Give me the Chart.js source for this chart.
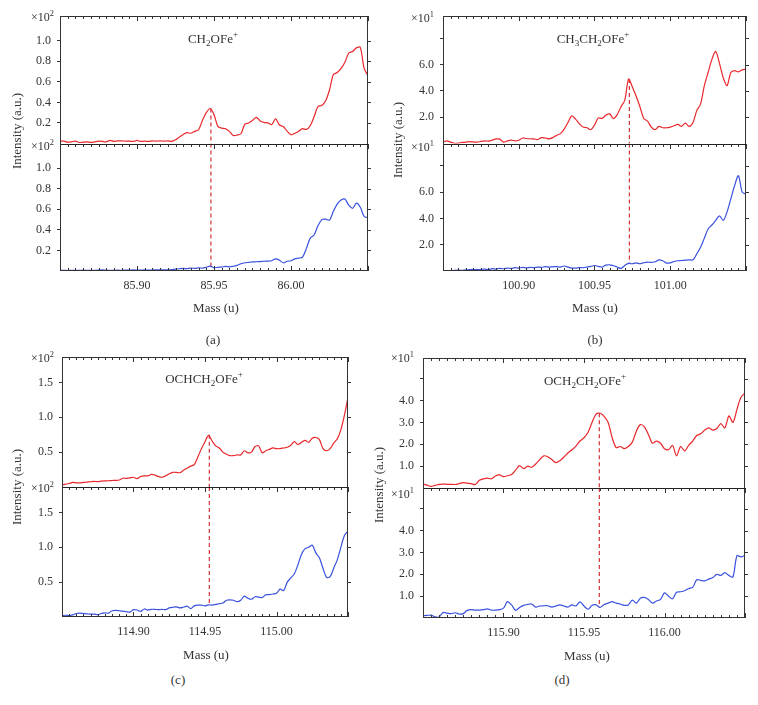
<!DOCTYPE html>
<html><head><meta charset="utf-8">
<script src="https://cdn.jsdelivr.net/npm/chart.js@4.4.1/dist/chart.umd.min.js"></script>
<style>
html,body{margin:0;padding:0;background:#fff;}
#wrap{position:relative;width:758px;height:705px;background:#fff;font-family:'Liberation Serif','Times New Roman',serif;color:#333;overflow:hidden;}
canvas{position:absolute;}
.t{position:absolute;white-space:nowrap;transform:translate(-50%,-50%);line-height:1;font-size:13px;color:#333;}
.r{position:absolute;white-space:nowrap;transform:translate(-100%,-50%);line-height:1;font-size:12px;color:#333;}
.v{position:absolute;white-space:nowrap;transform:translate(-50%,-50%) rotate(-90deg);font-size:13px;line-height:1;color:#333;}
sub,sup{font-size:70%;line-height:0;}
</style></head>
<body><div id="wrap">
<canvas id="ca" width="379" height="300" style="left:0;top:0"></canvas>
<canvas id="cb" width="379" height="300" style="left:379px;top:0"></canvas>
<canvas id="cc" width="379" height="310" style="left:0;top:340px"></canvas>
<canvas id="cd" width="379" height="310" style="left:379px;top:340px"></canvas>

<div class="t" style="left:213px;top:38px">CH<sub>2</sub>OFe<sup>+</sup></div>
<div class="t" style="left:593px;top:38px">CH<sub>3</sub>CH<sub>2</sub>OFe<sup>+</sup></div>
<div class="t" style="left:204px;top:378px">OCHCH<sub>2</sub>OFe<sup>+</sup></div>
<div class="t" style="left:585px;top:380px">OCH<sub>2</sub>CH<sub>2</sub>OFe<sup>+</sup></div>

<div class="r" style="left:54px;top:17px">×10<sup>2</sup></div>
<div class="r" style="left:54px;top:146px">×10<sup>2</sup></div>
<div class="r" style="left:434px;top:18px">×10<sup>1</sup></div>
<div class="r" style="left:434px;top:147px">×10<sup>1</sup></div>
<div class="r" style="left:54px;top:358px">×10<sup>2</sup></div>
<div class="r" style="left:54px;top:488px">×10<sup>2</sup></div>
<div class="r" style="left:414px;top:358px">×10<sup>1</sup></div>
<div class="r" style="left:414px;top:494px">×10<sup>1</sup></div>

<div class="v" style="left:16px;top:131px">Intensity (a.u.)</div>
<div class="v" style="left:397px;top:140px">Intensity (a.u.)</div>
<div class="v" style="left:16px;top:487px">Intensity (a.u.)</div>
<div class="v" style="left:378px;top:485px">Intensity (a.u.)</div>

<div class="t" style="left:216px;top:307px">Mass (u)</div>
<div class="t" style="left:595px;top:307px">Mass (u)</div>
<div class="t" style="left:206px;top:654px">Mass (u)</div>
<div class="t" style="left:587px;top:655px">Mass (u)</div>

<div class="t" style="left:213px;top:339px">(a)</div>
<div class="t" style="left:595px;top:339px">(b)</div>
<div class="t" style="left:178px;top:679px">(c)</div>
<div class="t" style="left:562px;top:679px">(d)</div>
</div>
<script>
// ---------- DATA ----------
const massA = [85.8500,85.8525,85.8550,85.8575,85.8600,85.8625,85.8650,85.8675,85.8700,85.8725,
85.8750,85.8775,85.8800,85.8825,85.8850,85.8875,85.8900,85.8925,85.8950,85.8975,
85.9000,85.9025,85.9050,85.9075,85.9100,85.9125,85.9150,85.9175,85.9200,85.9225,
85.9250,85.9275,85.9300,85.9325,85.9350,85.9375,85.9400,85.9425,85.9450,85.9475,
85.9500,85.9525,85.9550,85.9575,85.9600,85.9625,85.9650,85.9675,85.9700,85.9725,
85.9750,85.9775,85.9800,85.9825,85.9850,85.9875,85.9900,85.9925,85.9950,85.9975,
86.0000,86.0025,86.0050,86.0075,86.0100,86.0125,86.0150,86.0175,86.0200,86.0225,
86.0250,86.0275,86.0300,86.0325,86.0350,86.0375,86.0400,86.0425,86.0450,86.0475,86.0500];
const redA = [0.023,0.023,0.013,0.016,0.023,0.010,0.013,0.016,0.010,0.016,
0.023,0.020,0.016,0.030,0.020,0.026,0.026,0.023,0.023,0.020,
0.030,0.020,0.023,0.020,0.026,0.023,0.026,0.023,0.026,0.020,
0.036,0.062,0.088,0.105,0.100,0.118,0.134,0.225,0.300,0.340,
0.280,0.167,0.150,0.144,0.118,0.078,0.082,0.095,0.186,0.200,
0.225,0.255,0.220,0.206,0.200,0.185,0.240,0.180,0.165,0.120,
0.085,0.100,0.120,0.144,0.137,0.173,0.260,0.360,0.370,0.415,
0.520,0.670,0.690,0.730,0.790,0.880,0.895,0.930,0.935,0.730,0.660];
const blueA = [0.006,0.006,0.005,0.007,0.006,0.006,0.008,0.007,0.006,0.007,
0.008,0.010,0.007,0.006,0.006,0.008,0.007,0.009,0.008,0.010,
0.009,0.008,0.010,0.009,0.010,0.011,0.010,0.012,0.011,0.013,
0.018,0.022,0.025,0.023,0.028,0.025,0.030,0.028,0.036,0.048,
0.032,0.036,0.038,0.045,0.040,0.046,0.055,0.070,0.080,0.084,
0.088,0.090,0.092,0.095,0.096,0.100,0.118,0.105,0.080,0.095,
0.100,0.118,0.125,0.135,0.220,0.320,0.350,0.440,0.500,0.505,
0.495,0.580,0.650,0.690,0.700,0.640,0.610,0.660,0.620,0.530,0.520];

const massB = [100.8500,100.8525,100.8550,100.8575,100.8600,100.8625,100.8650,100.8675,100.8700,100.8725,
100.8750,100.8775,100.8800,100.8825,100.8850,100.8875,100.8900,100.8925,100.8950,100.8975,
100.9000,100.9025,100.9050,100.9075,100.9100,100.9125,100.9150,100.9175,100.9200,100.9225,
100.9250,100.9275,100.9300,100.9325,100.9350,100.9375,100.9400,100.9425,100.9450,100.9475,
100.9500,100.9525,100.9550,100.9575,100.9600,100.9625,100.9650,100.9675,100.9700,100.9725,
100.9750,100.9775,100.9800,100.9825,100.9850,100.9875,100.9900,100.9925,100.9950,100.9975,
101.0000,101.0025,101.0050,101.0075,101.0100,101.0125,101.0150,101.0175,101.0200,101.0225,
101.0250,101.0275,101.0300,101.0325,101.0350,101.0375,101.0400,101.0425,101.0450,101.0475,101.0500];
const redB = [0.10,0.20,0.10,0.02,0.03,0.08,0.10,0.14,0.12,0.10,
0.16,0.20,0.18,0.25,0.35,0.33,0.10,0.20,0.25,0.20,
0.25,0.42,0.38,0.36,0.35,0.30,0.45,0.42,0.35,0.45,
0.62,0.75,1.10,1.60,2.10,1.85,1.50,1.25,1.20,1.05,
1.40,1.95,1.90,2.15,2.25,1.90,2.20,2.80,3.30,4.90,
4.30,3.60,2.80,1.90,1.70,1.25,1.05,1.30,1.20,1.20,
1.25,1.35,1.45,1.30,1.55,1.30,1.60,2.50,3.00,4.40,
5.40,6.40,7.00,6.10,5.00,4.40,5.40,5.55,5.45,5.60,5.65];
const blueB = [0.02,0.03,0.00,0.05,0.06,0.05,0.08,0.10,0.12,0.10,
0.12,0.15,0.10,0.18,0.15,0.20,0.17,0.22,0.20,0.25,
0.22,0.28,0.24,0.28,0.25,0.30,0.28,0.33,0.30,0.32,
0.34,0.30,0.38,0.30,0.22,0.22,0.25,0.25,0.30,0.35,
0.42,0.35,0.30,0.45,0.47,0.40,0.30,0.20,0.42,0.58,
0.55,0.62,0.55,0.63,0.68,0.65,0.70,0.85,0.78,0.60,
0.62,0.72,0.78,0.80,0.83,0.85,0.85,1.30,1.80,2.50,
3.20,3.50,3.85,4.20,3.85,4.50,5.50,6.50,7.25,6.00,5.85];

const massC = [114.8500,114.8525,114.8550,114.8575,114.8600,114.8625,114.8650,114.8675,114.8700,114.8725,
114.8750,114.8775,114.8800,114.8825,114.8850,114.8875,114.8900,114.8925,114.8950,114.8975,
114.9000,114.9025,114.9050,114.9075,114.9100,114.9125,114.9150,114.9175,114.9200,114.9225,
114.9250,114.9275,114.9300,114.9325,114.9350,114.9375,114.9400,114.9425,114.9450,114.9475,
114.9500,114.9525,114.9550,114.9575,114.9600,114.9625,114.9650,114.9675,114.9700,114.9725,
114.9750,114.9775,114.9800,114.9825,114.9850,114.9875,114.9900,114.9925,114.9950,114.9975,
115.0000,115.0025,115.0050,115.0075,115.0100,115.0125,115.0150,115.0175,115.0200,115.0225,
115.0250,115.0275,115.0300,115.0325,115.0350,115.0375,115.0400,115.0425,115.0450,115.0475,115.0500];
const redC = [0.030,0.040,0.050,0.065,0.060,0.058,0.065,0.070,0.075,0.080,
0.078,0.085,0.088,0.090,0.093,0.095,0.100,0.125,0.125,0.130,
0.140,0.120,0.150,0.160,0.160,0.180,0.170,0.150,0.140,0.160,
0.190,0.210,0.210,0.205,0.240,0.270,0.300,0.320,0.430,0.550,
0.650,0.740,0.660,0.590,0.560,0.500,0.470,0.450,0.450,0.460,
0.460,0.520,0.490,0.500,0.580,0.590,0.490,0.520,0.540,0.560,
0.550,0.550,0.560,0.570,0.600,0.650,0.610,0.640,0.670,0.640,
0.700,0.710,0.680,0.550,0.520,0.550,0.630,0.690,0.820,1.030,1.290];
const blueC = [0.020,0.025,0.020,0.030,0.050,0.055,0.050,0.045,0.040,0.040,
0.035,0.050,0.060,0.055,0.090,0.095,0.090,0.085,0.075,0.070,
0.105,0.100,0.080,0.115,0.100,0.110,0.110,0.105,0.110,0.105,
0.130,0.140,0.145,0.130,0.140,0.155,0.120,0.160,0.170,0.170,
0.160,0.175,0.170,0.180,0.190,0.200,0.240,0.245,0.240,0.220,
0.240,0.300,0.270,0.255,0.290,0.285,0.280,0.320,0.320,0.330,
0.340,0.400,0.380,0.500,0.560,0.620,0.750,0.900,0.980,1.000,
1.030,0.920,0.850,0.700,0.570,0.580,0.700,0.820,1.000,1.170,1.230];

const massD = [115.8500,115.8525,115.8550,115.8575,115.8600,115.8625,115.8650,115.8675,115.8700,115.8725,
115.8750,115.8775,115.8800,115.8825,115.8850,115.8875,115.8900,115.8925,115.8950,115.8975,
115.9000,115.9025,115.9050,115.9075,115.9100,115.9125,115.9150,115.9175,115.9200,115.9225,
115.9250,115.9275,115.9300,115.9325,115.9350,115.9375,115.9400,115.9425,115.9450,115.9475,
115.9500,115.9525,115.9550,115.9575,115.9600,115.9625,115.9650,115.9675,115.9700,115.9725,
115.9750,115.9775,115.9800,115.9825,115.9850,115.9875,115.9900,115.9925,115.9950,115.9975,
116.0000,116.0025,116.0050,116.0075,116.0100,116.0125,116.0150,116.0175,116.0200,116.0225,
116.0250,116.0275,116.0300,116.0325,116.0350,116.0375,116.0400,116.0425,116.0450,116.0475,116.0500];
const redD = [0.18,0.13,0.07,0.12,0.17,0.18,0.17,0.17,0.16,0.20,
0.25,0.22,0.20,0.16,0.35,0.42,0.45,0.42,0.55,0.60,
0.52,0.56,0.62,0.82,1.02,0.88,1.00,0.95,1.10,1.30,
1.47,1.43,1.30,1.16,1.25,1.42,1.60,1.75,1.92,2.15,
2.30,2.55,3.00,3.38,3.42,3.28,3.00,2.30,1.85,1.90,
1.80,1.90,2.10,2.60,2.90,2.80,2.45,2.05,2.15,2.05,
1.80,1.75,1.95,1.47,1.90,1.70,1.95,2.15,2.40,2.48,
2.65,2.75,2.65,2.72,2.95,2.75,3.30,3.00,3.60,4.15,4.34];
const blueD = [0.10,0.12,0.13,0.05,0.05,0.25,0.22,0.20,0.24,0.18,
0.20,0.35,0.38,0.36,0.36,0.38,0.42,0.36,0.36,0.38,
0.45,0.75,0.60,0.35,0.48,0.58,0.62,0.64,0.50,0.55,
0.56,0.56,0.50,0.55,0.60,0.55,0.50,0.60,0.55,0.74,
0.55,0.40,0.58,0.60,0.48,0.62,0.68,0.75,0.68,0.64,
0.58,0.60,0.82,0.68,0.90,0.94,0.85,0.68,0.78,0.85,
1.15,1.00,0.88,1.18,1.20,1.25,1.35,1.40,1.75,1.72,
1.70,1.78,1.85,2.00,1.95,2.08,1.95,1.88,2.85,2.80,2.86];

// dashed marker: [mass, top-panel start, bottom-panel end]
const markA = [85.9480, 0.340, 0.044];
const markB = [100.9730, 4.90, 0.57];
const markC = [114.9530, 0.750, 0.175];
const markD = [115.9595, 3.42, 0.48];

// axis ranges / ticks
const xRangeA = [85.85, 86.05],   xTicksA = [85.90, 85.95, 86.00],    xLabelsA = ['85.90','85.95','86.00'];
const xRangeB = [100.85, 101.05], xTicksB = [100.90, 100.95, 101.00], xLabelsB = ['100.90','100.95','101.00'];
const xRangeC = [114.85, 115.05], xTicksC = [114.90, 114.95, 115.00], xLabelsC = ['114.90','114.95','115.00'];
const xRangeD = [115.85, 116.05], xTicksD = [115.90, 115.95, 116.00], xLabelsD = ['115.90','115.95','116.00'];
const yMaxA = 1.24, yTicksA = [0.2,0.4,0.6,0.8,1.0], yLabelsA = ['0.2','0.4','0.6','0.8','1.0'];
const yMaxB = 9.7,  yTicksB = [2,4,6,8],             yLabelsB = ['2.0','4.0','6.0',''];
const yMaxC = 1.865,yTicksC = [0.5,1.0,1.5],         yLabelsC = ['0.5','1.0','1.5'];
const yMaxD = 5.95, yTicksD = [1,2,3,4,5],           yLabelsD = ['1.0','2.0','3.0','4.0',''];

// ---------- STYLE ----------
const RED = 'rgb(232,40,44)', BLUE = 'rgb(58,82,222)', DASH = 'rgb(206,32,36)', AX = '#333';
const FONT = {family: "'Liberation Serif','Times New Roman',serif", size: 12};

function makePanel(id, mass, red, blue, mark, xRange, xTicks, xLabels, yMax, yTicks, yLabels, area) {
  const cv = document.getElementById(id);
  const W = cv.width, H = cv.height;
  const [L, T, R, B] = area;
  const frame = {
    id: 'frame' + id,
    afterDraw(chart) {
      const {ctx, chartArea: a, scales} = chart;
      const xs = scales.x, yt = scales.yTop, yb = scales.yBot;
      const left = Math.round(a.left), right = Math.round(a.right), top = Math.round(a.top), bottom = Math.round(a.bottom);
      const mid = Math.round(yt.bottom);
      ctx.save();
      ctx.strokeStyle = AX; ctx.lineWidth = 1;
      ctx.strokeRect(left + 0.5, top + 0.5, right - left - 1, bottom - top - 1);
      ctx.strokeStyle = '#222';
      ctx.beginPath(); ctx.moveTo(left, mid + 0.5); ctx.lineTo(right, mid + 0.5); ctx.stroke();
      ctx.strokeStyle = AX;
      ctx.beginPath();
      const n = Math.round((xRange[1] - xRange[0]) / 0.005);
      for (let i = 0; i <= n; i++) {
        const v = xRange[0] + i * 0.005;
        const px = Math.round(xs.getPixelForValue(v)) + 0.5;
        const major = (i % 10) === 0;
        const len = major ? 5 : 3;
        ctx.moveTo(px, top); ctx.lineTo(px, top + len);
        ctx.moveTo(px, mid); ctx.lineTo(px, mid + len);
        ctx.moveTo(px, bottom); ctx.lineTo(px, bottom - len);
      }
      [yt, yb].forEach(s => s.ticks.forEach(t => {
        const py = Math.round(s.getPixelForValue(t.value)) + 0.5;
        ctx.moveTo(right, py); ctx.lineTo(right + 3, py);
      }));
      ctx.stroke();
      ctx.restore();
    }
  };
  const yCommon = {
    type: 'linear', position: 'left', stack: 'panel', stackWeight: 1, min: 0, max: yMax,
    grid: {display: true, drawOnChartArea: false, drawTicks: true, tickLength: 3, color: AX, lineWidth: 1},
    border: {display: false},
    ticks: {padding: 6, font: FONT, color: AX, autoSkip: false, callback: (v, i) => yLabels[i]},
    afterBuildTicks: s => { s.ticks = yTicks.map(v => ({value: v})); },
    afterFit: s => { s.width = L; }
  };
  const line = (data, axis, color, dash) => ({
    data, yAxisID: axis, borderColor: color, borderWidth: dash ? 1.1 : 1.2, pointRadius: 0,
    tension: dash ? 0 : 0.3, borderDash: dash ? [4, 3] : [], fill: false
  });
  return new Chart(cv, {
    type: 'line',
    data: {datasets: [
      line(mass.map((m, i) => ({x: m, y: red[i]})), 'yTop', RED, false),
      line(mass.map((m, i) => ({x: m, y: blue[i]})), 'yBot', BLUE, false),
      line([{x: mark[0], y: mark[1]}, {x: mark[0], y: 0}], 'yTop', DASH, true),
      line([{x: mark[0], y: yMax}, {x: mark[0], y: mark[2]}], 'yBot', DASH, true)
    ]},
    options: {
      responsive: false, animation: false, devicePixelRatio: 1,
      plugins: {legend: {display: false}, tooltip: {enabled: false}, title: {display: false}},
      layout: {padding: {left: 0, top: T, right: W - R, bottom: 0}},
      scales: {
        x: {
          type: 'linear', min: xRange[0], max: xRange[1],
          grid: {display: false, drawTicks: false}, border: {display: false},
          ticks: {autoSkip: false, maxRotation: 0, minRotation: 0, padding: 8, font: FONT, color: AX,
                  callback: (v, i) => xLabels[i]},
          afterBuildTicks: s => { s.ticks = xTicks.map(v => ({value: v})); },
          afterFit: s => { s.height = H - B; }
        },
        yBot: Object.assign({}, yCommon),
        yTop: Object.assign({}, yCommon)
      }
    },
    plugins: [frame]
  });
}

makePanel('ca', massA, redA, blueA, markA, xRangeA, xTicksA, xLabelsA, yMaxA, yTicksA, yLabelsA, [60, 16, 368, 271]);
makePanel('cb', massB, redB, blueB, markB, xRangeB, xTicksB, xLabelsB, yMaxB, yTicksB, yLabelsB, [64, 16, 367, 271]);
makePanel('cc', massC, redC, blueC, markC, xRangeC, xTicksC, xLabelsC, yMaxC, yTicksC, yLabelsC, [62, 17, 348, 277]);
makePanel('cd', massD, redD, blueD, markD, xRangeD, xTicksD, xLabelsD, yMaxD, yTicksD, yLabelsD, [44, 18, 366, 278]);
</script>
</body></html>
